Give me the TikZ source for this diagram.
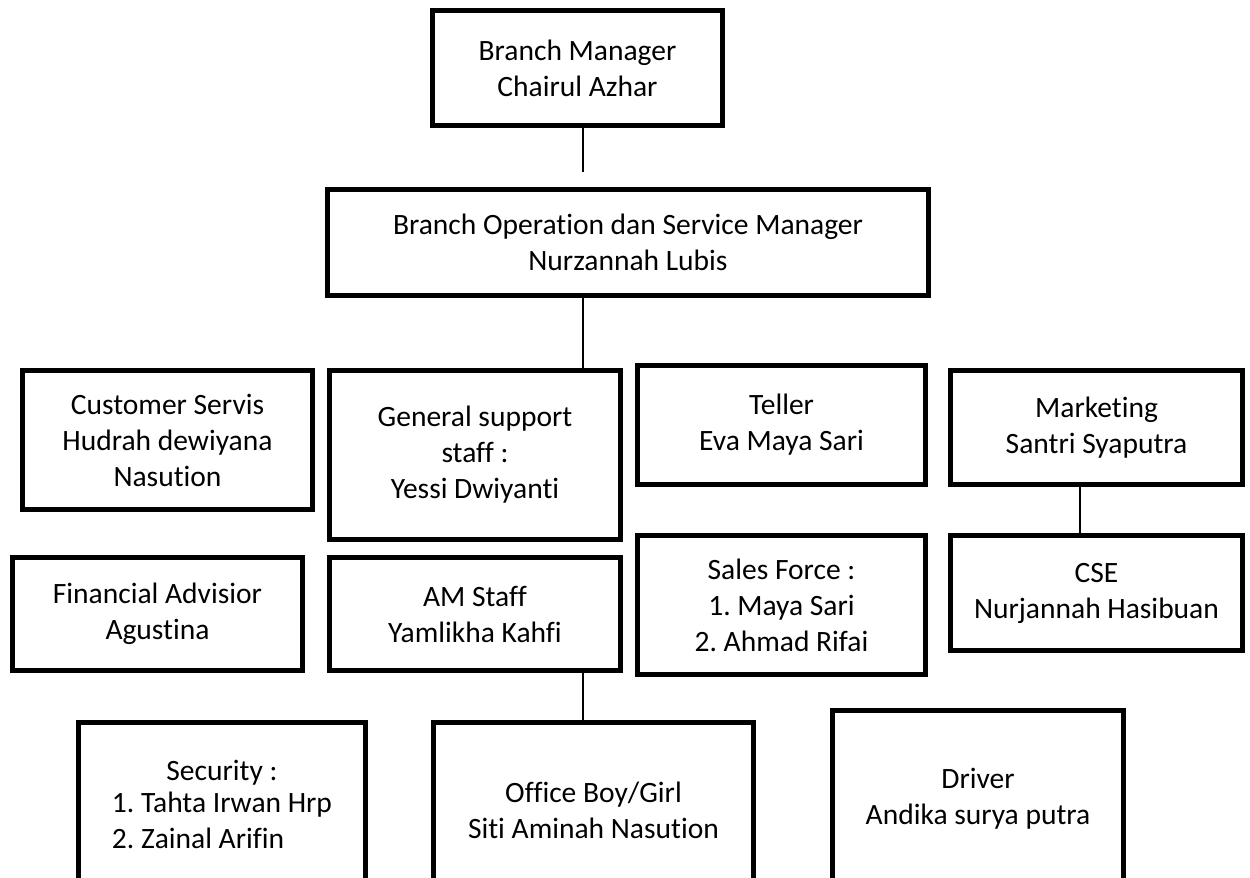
\documentclass[tikz,border=0pt]{standalone}
\usepackage{fontspec}
\setmainfont{Carlito}[Ligatures={NoCommon,NoContextual}]
\usepackage{tikz}
\frenchspacing

\begin{document}
\begin{tikzpicture}[x=0.02cm, y=-0.02cm,
  unit/.style={rectangle, draw=black, line width=0.1cm, fill=white, align=center, inner sep=0pt, font=\fontsize{16.8}{20.5}\selectfont},
  line/.style={draw, line width=1pt}]

  \fill [white] (0,0) rectangle (1250,877);
  \clip (0,0) rectangle (1250,877);

  \node [unit, minimum width=5.8cm, minimum height=2.3cm] (bm) at (577.5,68) {Branch Manager\\Chairul Azhar};
  \node [unit, minimum width=12.02cm, minimum height=2.12cm] (bosm) at (628,242.5) {Branch Operation dan Service Manager\\Nurzannah Lubis};

  \node [unit, minimum width=5.8cm, minimum height=2.78cm] (cs) at (167.5,440) {Customer Servis\\Hudrah dewiyana\\Nasution};
  \node [unit, minimum width=5.82cm, minimum height=3.38cm] (gs) at (475,455) {General support\\staff :\\Yessi Dwiyanti};
  \node [unit, minimum width=5.76cm, minimum height=2.38cm] (teller) at (781.5,425) {Teller\\Eva Maya Sari};
  \node [unit, minimum width=5.84cm, minimum height=2.28cm] (mkt) at (1096.5,427.5) {Marketing\\Santri Syaputra};

  \node [unit, minimum width=5.8cm, minimum height=2.26cm] (fa) at (157.5,614) {Financial Advisior\\Agustina};
  \node [unit, minimum width=5.82cm, minimum height=2.26cm] (am) at (475,614) {AM Staff\\Yamlikha Kahfi};
  \node [unit, minimum width=5.76cm, minimum height=2.78cm] (sales) at (781.5,605) {Sales Force :\\1. Maya Sari\\2. Ahmad Rifai};
  \node [unit, minimum width=5.84cm, minimum height=2.3cm] (cse) at (1096.5,593) {CSE\\Nurjannah Hasibuan};

  \node [unit, minimum width=5.74cm, minimum height=3.5cm] (sec) at (222,810) {Security :\\\begin{tabular}{@{}l@{}}1. Tahta Irwan Hrp\\2. Zainal Arifin\end{tabular}};
  \node [unit, minimum width=6.4cm, minimum height=3.5cm] (ob) at (593.5,810) {Office Boy/Girl\\Siti Aminah Nasution};
  \node [unit, minimum width=5.82cm, minimum height=3.54cm] (drv) at (978,799) {Driver\\Andika surya putra};

  \coordinate (trunk) at (583,0);
  \coordinate (mktline) at (1080,0);

  \path [line, shorten >=0.3cm] (bm.south -| trunk) -- (bosm.north -| trunk);
  \path [line] (bosm.south -| trunk) -- (gs.north -| trunk);
  \path [line] (am.south -| trunk) -- (ob.north -| trunk);
  \path [line] (mkt.south -| mktline) -- (cse.north -| mktline);
\end{tikzpicture}
\end{document}
